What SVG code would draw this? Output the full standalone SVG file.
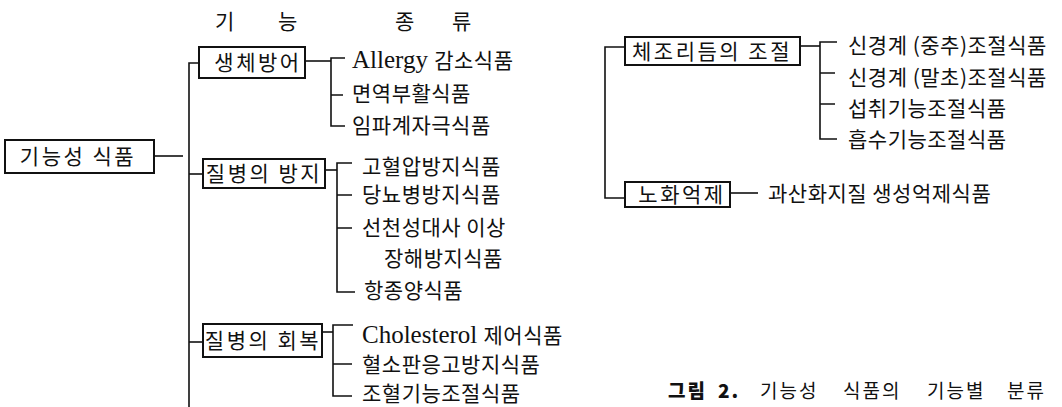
<svg xmlns="http://www.w3.org/2000/svg" width="1062" height="407" viewBox="0 0 1062 407">
<style>
.k{font-family:"Noto Sans CJK KR",sans-serif;font-size:21px;fill:#111;letter-spacing:0.5px}
.b{font-family:"Noto Sans CJK KR",sans-serif;font-size:21px;fill:#111;letter-spacing:2.5px;text-anchor:middle}
.l{font-family:"Liberation Serif","Noto Sans CJK KR",serif;font-size:25px;fill:#111}
.c{text-anchor:middle}
.box{fill:#fff;stroke:#111;stroke-width:2}
.ln{fill:none;stroke:#111;stroke-width:1.6}
.cap{font-family:"Noto Sans CJK KR",sans-serif;font-size:19px;fill:#111;letter-spacing:2px}
</style>
<rect width="1062" height="407" fill="#fff"/>
<g id="headers">
<text class="k c" y="29"><tspan x="225">기</tspan><tspan x="288">능</tspan></text>
<text class="k c" y="29"><tspan x="405">종</tspan><tspan x="462">류</tspan></text>
</g>
<g id="connectors">
<path class="ln" d="M154,156 H183"/>
<path class="ln" d="M199,63 H189 V407"/>
<path class="ln" d="M189,174 H203"/>
<path class="ln" d="M189,342 H203"/>
<path class="ln" d="M305,61 H331"/>
<path class="ln" d="M345,58 H331 V126 H345 M331,95 H343"/>
<path class="ln" d="M325,170 H337"/>
<path class="ln" d="M352,163 H337 V292 H355 M337,195 H352 M337,228 H352"/>
<path class="ln" d="M322,332 H333"/>
<path class="ln" d="M353,325 H333 V396 H352 M333,364 H352"/>
<path class="ln" d="M624,47 H605 V198 H625"/>
<path class="ln" d="M800,46 H820"/>
<path class="ln" d="M837,42 H820 V139 H837 M820,73 H835 M820,104 H835"/>
<path class="ln" d="M730,193 H758"/>
</g>
<g id="root"><rect class="box" x="5" y="140" width="149" height="33"/><text class="b" x="78" y="164">기능성 식품</text></g>
<g id="f1"><rect class="box" x="199" y="47" width="106" height="31"/><text class="b" x="258" y="70">생체방어</text></g>
<g id="f2"><rect class="box" x="203" y="159" width="122" height="29"/><text class="b" x="264" y="181">질병의 방지</text></g>
<g id="f3"><rect class="box" x="203" y="324" width="119" height="33"/><text class="b" x="263" y="348">질병의 회복</text></g>
<g id="f4"><rect class="box" x="625" y="37" width="175" height="28"/><text class="b" x="712" y="59">체조리듬의 조절</text></g>
<g id="f5"><rect class="box" x="625" y="182" width="105" height="25"/><text class="b" x="682" y="202">노화억제</text></g>
<g id="t1"><text class="l" x="352" y="68">Allergy <tspan class="k">감소식품</tspan></text></g>
<g id="t2"><text class="k" x="352" y="101">면역부활식품</text></g>
<g id="t3"><text class="k" x="352" y="133">임파계자극식품</text></g>
<g id="t4"><text class="k" x="362" y="174">고혈압방지식품</text></g>
<g id="t5"><text class="k" x="362" y="202">당뇨병방지식품</text></g>
<g id="t6"><text class="k" x="362" y="235">선천성대사 이상</text><text class="k" x="384" y="266">장해방지식품</text></g>
<g id="t7"><text class="k" x="364" y="298">항종양식품</text></g>
<g id="t8"><text class="l" x="362" y="343">Cholesterol <tspan class="k">제어식품</tspan></text></g>
<g id="t9"><text class="k" x="362" y="372">혈소판응고방지식품</text></g>
<g id="t10"><text class="k" x="362" y="401">조혈기능조절식품</text></g>
<g id="t11"><text class="k" x="848" y="53">신경계 (중추)조절식품</text></g>
<g id="t12"><text class="k" x="848" y="85">신경계 (말초)조절식품</text></g>
<g id="t13"><text class="k" x="848" y="116">섭취기능조절식품</text></g>
<g id="t14"><text class="k" x="848" y="147">흡수기능조절식품</text></g>
<g id="t15"><text class="k" x="768" y="201">과산화지질 생성억제식품</text></g>
<g id="caption"><text class="cap" y="398"><tspan x="668" font-weight="900">그림</tspan><tspan x="718" font-weight="900">2.</tspan><tspan x="760">기능성</tspan><tspan x="843">식품의</tspan><tspan x="927">기능별</tspan><tspan x="1007">분류</tspan></text></g>
</svg>
